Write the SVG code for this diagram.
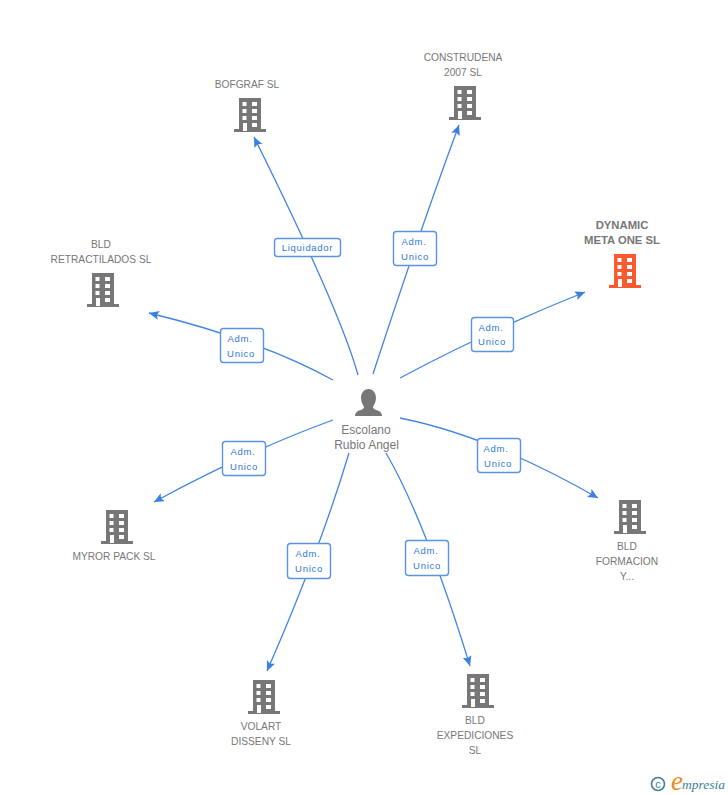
<svg xmlns="http://www.w3.org/2000/svg" width="728" height="795" viewBox="0 0 728 795">
<style>
text{font-family:"Liberation Sans",Arial,sans-serif;font-size:10.200px;fill:#777;text-anchor:middle}
.edge{fill:none;stroke:#4285e0;stroke-width:1.3;marker-end:url(#arrow)}
.lb rect{fill:#fff;stroke:#5b93e4;stroke-width:1.4}
.lb text{font-size:9.500px;fill:#2f78d8;letter-spacing:.7px}
.strong{font-weight:bold;font-size:11.300px}
.person{font-size:12px}
</style>
<defs>
<marker id="arrow" markerUnits="userSpaceOnUse" markerWidth="12" markerHeight="10" refX="10" refY="4.5" orient="auto"><path d="M0 0L10 4.5L0 9L2 4.5Z" fill="#3a80e2"/></marker>
<symbol id="b" viewBox="0 0 32 34" overflow="visible">
<path fill-rule="evenodd" d="M5 0H27V31H32V34H0V31H5ZM8.500 4V8H12.500V4ZM18 4V8H23V4ZM8.500 11V15H12.500V11ZM18 11V15H23V11ZM8.500 18V22H12.500V18ZM18 18V22H23V18ZM9 25V33H13V25ZM18 25V29H23V25Z"/>
</symbol>
</defs>
<g id="connectors">
<path class="edge" d="M358 375Q340 310 254 137"/>
<path class="edge" d="M373 374Q420 230 459 125"/>
<path class="edge" d="M400 378Q490 330 585 292"/>
<path class="edge" d="M333 380Q260 340 149 313"/>
<path class="edge" d="M333 420Q250 450 154 502"/>
<path class="edge" d="M349 453Q320 550 267 671"/>
<path class="edge" d="M386 453Q425 520 470 666"/>
<path class="edge" d="M400 418Q490 436 598 498"/>
</g>
<g id="edge-labels" class="lb">
<g><rect x="274.500" y="238.500" width="66" height="18" rx="3"/><text x="307.500" y="251">Liquidador</text></g>
<g><rect x="393.500" y="231.500" width="43" height="34" rx="3"/><text x="414" y="245">Adm.</text><text x="415" y="260">Unico</text></g>
<g><rect x="471.500" y="317.500" width="42" height="34" rx="3"/><text x="491" y="331">Adm.</text><text x="492" y="345">Unico</text></g>
<g><rect x="220.500" y="328.500" width="43" height="34" rx="3"/><text x="240" y="342">Adm.</text><text x="241" y="357">Unico</text></g>
<g><rect x="222.500" y="441.500" width="43" height="34" rx="3"/><text x="243" y="455">Adm.</text><text x="244" y="470">Unico</text></g>
<g><rect x="287.500" y="543.500" width="43" height="35" rx="3"/><text x="308" y="557">Adm.</text><text x="309" y="572">Unico</text></g>
<g><rect x="405.500" y="540.500" width="43" height="35" rx="3"/><text x="426" y="554">Adm.</text><text x="427" y="569">Unico</text></g>
<g><rect x="477.500" y="438.500" width="43" height="34" rx="3"/><text x="496" y="452">Adm.</text><text x="498" y="467">Unico</text></g>
</g>
<g id="person">
<path fill="#777" d="M368.500 389C373 389 376 393 376 398C376 402 374 405 373 407C373 409 376 410 379 411C381 412 382 414 382 416H355C355 414 356 412 358 411C361 410 364 409 364 407C363 405 361 402 361 398C361 393 364 389 368.500 389Z"/>
<text class="person" x="366" y="434">Escolano</text><text class="person" x="366.500" y="449">Rubio Angel</text>
</g>
<g id="bofgraf" fill="#777"><use href="#b" x="234" y="98" width="32" height="34"/><text x="247" y="88">BOFGRAF SL</text></g>
<g id="construdena" fill="#777"><use href="#b" x="449" y="86" width="32" height="34"/><text x="463" y="61">CONSTRUDENA</text><text x="463" y="76">2007 SL</text></g>
<g id="dynamic" fill="#fb5a30"><use href="#b" x="609" y="254" width="32" height="34"/><text class="strong" x="622" y="229">DYNAMIC</text><text class="strong" x="622" y="244">META ONE SL</text></g>
<g id="retractilados" fill="#777"><use href="#b" x="87" y="273" width="32" height="34"/><text x="101" y="248">BLD</text><text x="101" y="263">RETRACTILADOS SL</text></g>
<g id="myror" fill="#777"><use href="#b" x="101" y="510" width="32" height="34"/><text x="114" y="560">MYROR PACK SL</text></g>
<g id="volart" fill="#777"><use href="#b" x="248" y="680" width="32" height="34"/><text x="261" y="730">VOLART</text><text x="261" y="745">DISSENY SL</text></g>
<g id="expediciones" fill="#777"><use href="#b" x="462" y="674" width="32" height="34"/><text x="475" y="724">BLD</text><text x="475" y="739">EXPEDICIONES</text><text x="475" y="754">SL</text></g>
<g id="formacion" fill="#777"><use href="#b" x="614" y="500" width="32" height="34"/><text x="627" y="550">BLD</text><text x="627" y="565">FORMACION</text><text x="627" y="580">Y...</text></g>
<g id="logo">
<circle cx="658" cy="784" r="6.500" fill="none" stroke="#3d7f96" stroke-width="1.600"/>
<text x="658" y="787.500" style="font-size:11px;fill:#3d7f96">c</text>
<text x="677" y="790" style="font-family:'Liberation Serif',serif;font-style:italic;font-size:27px;fill:#f08a1d">e</text>
<text x="725" y="789" style="font-family:'Liberation Serif',serif;font-style:italic;font-size:13.500px;fill:#3d7f96;text-anchor:end">mpresia</text>
</g>
</svg>
